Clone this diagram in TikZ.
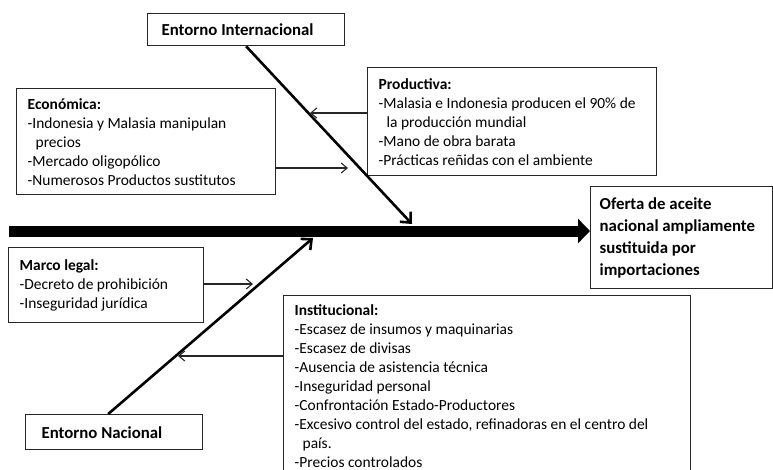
\documentclass[tikz,border=0pt]{standalone}
\usepackage{fontspec}
\setmainfont{Carlito}
\usetikzlibrary{arrows.meta,calc}
\newdimen\pxu \pxu=0.75pt
\newcommand\txtS{\fontsize{11.6}{14.25}\selectfont}
\newcommand\txtB{\fontsize{12.6}{16.5}\selectfont\bfseries}
\begin{document}
\begin{tikzpicture}[x=0.75pt,y=-0.75pt,
  box/.style={draw=black!85, line width=1pt, anchor=north west, align=flush left, inner ysep=0pt, font=\txtS},
  spine/.style={line width=8.25pt, -{Triangle[length=9pt,width=18pt]}},
  bone/.style={line width=1.95pt, -{Straight Barb[length=6pt,width=11pt]}},
  cause/.style={line width=0.8pt, draw=black!85, -{Straight Barb[length=4.5pt,width=7.5pt]}}]
\useasboundingbox[fill=white] (0,0) rectangle (773,470);

\node[box, minimum height=32\pxu, text width=169\pxu, inner xsep=14\pxu, font=\txtB] (ei) at (147,13) {Entorno Internacional};

\node[box, minimum height=106\pxu, text width=237\pxu, inner xsep=11\pxu] (eco) at (16,88)
 {\textbf{Económica:}\\-Indonesia y Malasia manipulan\\\hspace*{8\pxu}precios\\-Mercado oligopólico\\-Numerosos Productos sustitutos};

\node[box, minimum height=108\pxu, text width=267\pxu, inner xsep=11\pxu] (prod) at (367,67)
 {\textbf{Productiva:}\\-Malasia e Indonesia producen el 90\% de\\\hspace*{8\pxu}la producción mundial\\-Mano de obra barata\\-Prácticas reñidas con el ambiente};

\node[box, minimum height=102\pxu, text width=164\pxu, inner xsep=9\pxu, font=\txtB] (ofe) at (590,186)
 {Oferta de aceite\\nacional ampliamente\\sustituida por\\importaciones};

\node[box, minimum height=75\pxu, text width=173\pxu, inner xsep=11\pxu] (marco) at (8,247)
 {\textbf{Marco legal:}\\-Decreto de prohibición\\-Inseguridad jurídica};

\node[box, minimum height=181\pxu, text width=385\pxu, inner xsep=11\pxu] (inst) at (283,295)
 {\textbf{Institucional:}\\-Escasez de insumos y maquinarias\\-Escasez de divisas\\-Ausencia de asistencia técnica\\-Inseguridad personal\\-Confrontación Estado-Productores\\-Excesivo control del estado, refinadoras en el centro del\\\hspace*{8\pxu}país.\\-Precios controlados};

\node[box, minimum height=35\pxu, text width=145\pxu, inner xsep=16\pxu, font=\txtB] (en) at (25,414) {Entorno Nacional};

\coordinate (s0) at (9,231);
\coordinate (t1) at (412,224);
\coordinate (b1) at (313,238);
\coordinate (pa) at (310,113);
\coordinate (ea) at (348,168);
\coordinate (ma) at (253,284);
\coordinate (ia) at (178,356);

\draw[spine] (s0) -- (s0 -| ofe.west);
\draw[bone] (ei.south) -- (t1);
\draw[bone] ($(en.north)+(-6,0)$) -- (b1);
\draw[cause] (prod.west |- pa) -- (pa);
\draw[cause] (eco.east |- ea) -- (ea);
\draw[cause] (marco.east |- ma) -- (ma);
\draw[cause] (inst.west |- ia) -- (ia);
\end{tikzpicture}
\end{document}
